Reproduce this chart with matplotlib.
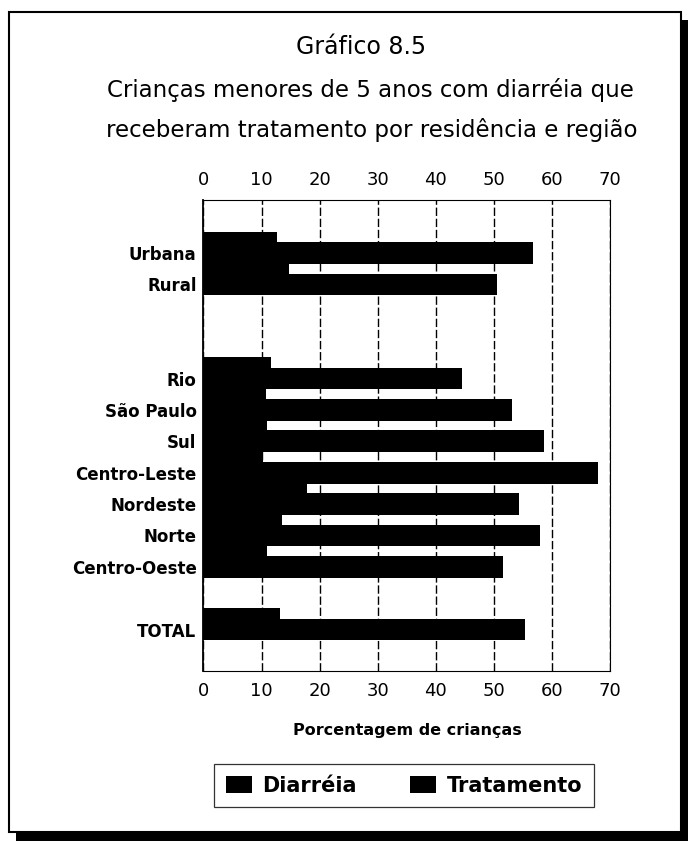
import matplotlib
matplotlib.use('Agg')
import matplotlib.pyplot as plt
from matplotlib.patches import Rectangle
import numpy as np

categorias = ['Urbana', 'Rural', 'Rio', 'São Paulo', 'Sul', 'Centro-Leste',
              'Nordeste', 'Norte', 'Centro-Oeste', 'TOTAL']
posicoes = [0, 1, 4, 5, 6, 7, 8, 9, 10, 12]
diarreia = [12.6, 14.7, 11.6, 10.7, 11.0, 10.2, 17.8, 13.5, 10.9, 13.2]
tratamento = [56.7, 50.5, 44.6, 53.2, 58.7, 68.0, 54.3, 58.0, 51.6, 55.3]
ticks_x = [0, 10, 20, 30, 40, 50, 60, 70]

plt.rcParams['font.family'] = ['DejaVu Sans']

W, H = 689, 843
fig = plt.figure(figsize=(W / 100, H / 100), dpi=100)

# moldura com sombra
fig.patches.append(Rectangle((16 / W, 1 - 841 / H), 672 / W, 821 / H,
                             transform=fig.transFigure, facecolor='black',
                             edgecolor='none', zorder=0))
fig.patches.append(Rectangle((9 / W, 1 - 832 / H), 672 / W, 820 / H,
                             transform=fig.transFigure, facecolor='white',
                             edgecolor='black', linewidth=1.5, zorder=1))

ax = fig.add_axes([203.5 / W, 1 - 670.7 / H, 406.5 / W, 470.7 / H])
ax.set_zorder(2)

y = np.array(posicoes)
altura = 0.69
ax.barh(y - 0.335, diarreia, height=altura, color='black', label='Diarréia', zorder=3)
ax.barh(y, tratamento, height=altura, color='black', label='Tratamento', zorder=4)

ax.set_xlim(0, 70)
ax.set_ylim(13.31, -1.69)
ax.set_xticks(ticks_x)
ax.set_xticklabels([str(t) for t in ticks_x], fontsize=13)
ax.set_yticks(posicoes)
ax.set_yticklabels(categorias, fontsize=12, fontweight='bold')
ax.tick_params(axis='x', top=True, labeltop=True, bottom=True, labelbottom=True,
               length=0, pad=8)
ax.tick_params(axis='y', length=0, pad=5)
ax.xaxis.grid(True, color='black', linestyle=(0, (6, 2)), linewidth=1.0)
ax.set_axisbelow(True)
for lado in ['top', 'bottom', 'right']:
    ax.spines[lado].set_linewidth(0.8)
ax.spines['left'].set_linewidth(1.3)

fig.text(361 / W, 1 - 47 / H, 'Gráfico 8.5', ha='center', va='center', fontsize=17)
fig.text(370 / W, 1 - 90 / H, 'Crianças menores de 5 anos com diarréia que',
         ha='center', va='center', fontsize=16.5)
fig.text(372 / W, 1 - 130 / H, 'receberam tratamento por residência e região',
         ha='center', va='center', fontsize=16.5)
fig.text(407 / W, 1 - 730 / H, 'Porcentagem de crianças', ha='center', va='center',
         fontsize=11.5, fontweight='bold')

leg = fig.legend(loc='center', ncol=2, mode='expand',
                 bbox_to_anchor=(204 / W, 1 - 808 / H, 400 / W, 45 / H),
                 prop={'size': 15, 'weight': 'bold'}, frameon=True, fancybox=False,
                 edgecolor='black', handlelength=1.25, handleheight=0.85,
                 handletextpad=0.5, borderpad=0.55, columnspacing=0.9)
leg.get_frame().set_linewidth(0.9)

fig.savefig('out.png', dpi=100)
